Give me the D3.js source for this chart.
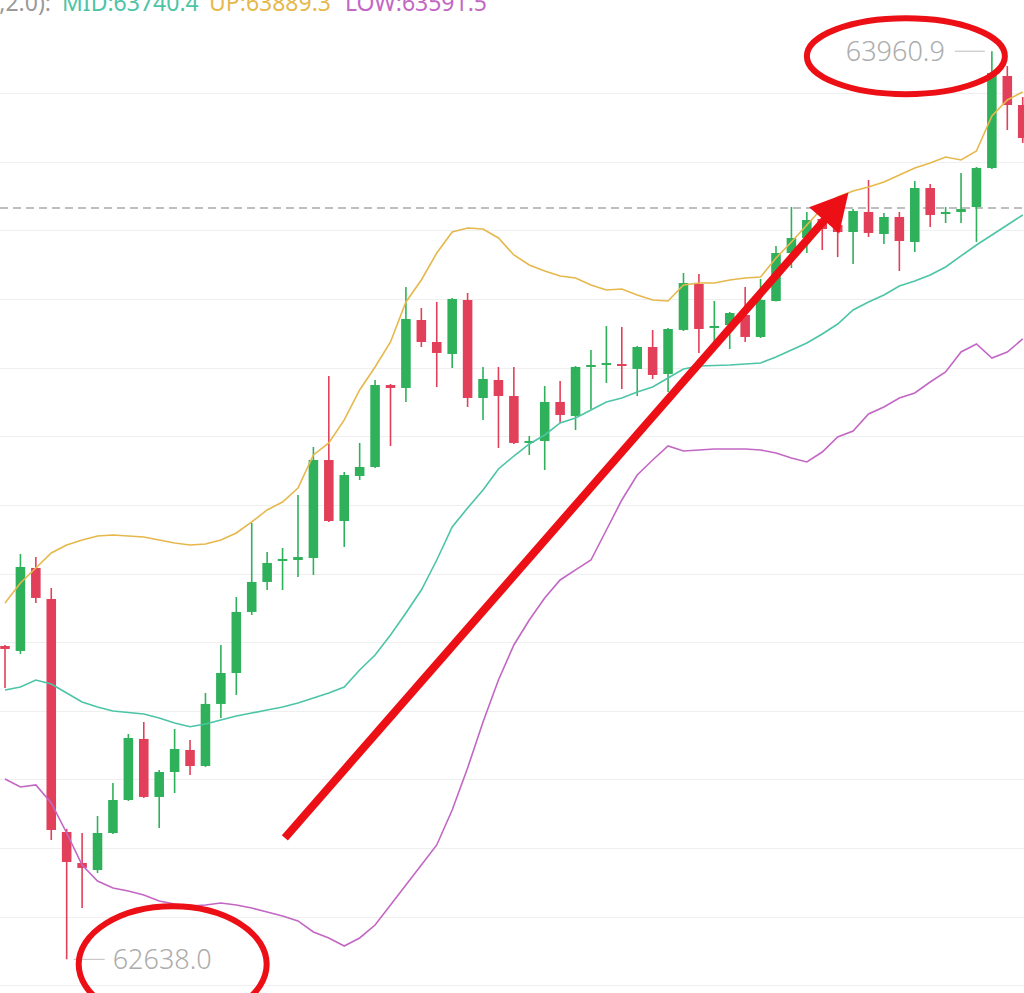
<!DOCTYPE html>
<html>
<head>
<meta charset="utf-8">
<script src="https://cdn.jsdelivr.net/npm/d3@7"></script>
<style>
    html, body { margin: 0; padding: 0; background: #fff; }
    svg { display: block; }
</style>
</head>
<body>
<div id="chart-area"></div>
<script>
// Candle values (one per bar, left to right)
const open = [63094.4, 63087.2, 63208.1, 63162.9, 62823.5, 62778.3, 62768.1, 62822.0, 62870.1, 62959.0,
    62874.5, 62910.9, 62942.9, 62919.6, 63010.0, 63055.1, 63144.0, 63187.7, 63218.3, 63219.7,
    63222.6, 63365.4, 63276.5, 63342.1, 63355.2, 63474.6, 63470.3, 63569.3, 63537.3, 63519.8,
    63598.5, 63455.7, 63481.9, 63458.6, 63390.2, 63393.1, 63449.9, 63429.5, 63500.9, 63503.8,
    63505.2, 63498.0, 63530.0, 63490.7, 63554.8, 63621.8, 63557.7, 63562.0, 63576.6, 63544.6,
    63597.0, 63666.9, 63688.8, 63716.5, 63707.7, 63697.5, 63726.7, 63694.6, 63719.4, 63683.0,
    63761.6, 63723.7, 63726.7, 63733.9, 63790.7, 63924.8, 63882.5];
const high = [63095.9, 63228.5, 63224.1, 63178.9, 62828.0, 62822.0, 62846.8, 62894.9, 62966.3, 62983.7,
    62913.8, 62973.5, 62957.5, 63026.0, 63095.9, 63165.8, 63273.6, 63231.4, 63237.2, 63314.4,
    63384.3, 63487.8, 63347.9, 63390.2, 63481.9, 63476.1, 63617.4, 63586.8, 63595.6, 63601.4,
    63608.7, 63500.9, 63500.9, 63500.9, 63400.4, 63473.2, 63480.5, 63502.3, 63525.6, 63560.6,
    63559.1, 63531.5, 63554.8, 63557.7, 63637.8, 63636.3, 63597.0, 63581.0, 63617.4, 63629.1,
    63677.1, 63733.9, 63726.7, 63722.3, 63723.7, 63731.0, 63773.3, 63725.2, 63726.7, 63771.8,
    63767.4, 63733.9, 63783.5, 63792.2, 63960.9, 63939.3, 63894.2];
const low = [63033.3, 63082.8, 63157.1, 62811.8, 62638.0, 62712.8, 62763.8, 62820.6, 62868.7, 62873.0,
    62829.3, 62880.3, 62906.5, 62918.2, 62989.6, 63023.1, 63139.6, 63176.0, 63176.0, 63195.0,
    63197.9, 63275.1, 63238.7, 63336.3, 63353.7, 63385.8, 63449.9, 63530.0, 63471.7, 63499.4,
    63442.6, 63423.7, 63382.9, 63388.7, 63372.7, 63350.8, 63419.3, 63409.1, 63439.7, 63477.6,
    63468.8, 63458.6, 63483.4, 63464.4, 63553.3, 63521.3, 63537.3, 63527.1, 63537.3, 63543.1,
    63596.3, 63645.1, 63666.9, 63671.3, 63661.1, 63650.9, 63690.2, 63680.0, 63640.7, 63668.4,
    63704.8, 63710.6, 63710.6, 63683.0, 63789.3, 63846.1, 63827.2];
const close = [63090.1, 63209.5, 63164.4, 62826.4, 62779.8, 62771.1, 62822.0, 62870.1, 62960.4, 62874.5,
    62910.9, 62944.4, 62919.6, 63010.0, 63055.1, 63144.0, 63187.7, 63215.4, 63221.2, 63224.1,
    63365.4, 63276.5, 63343.5, 63355.2, 63474.6, 63470.3, 63570.8, 63537.3, 63521.3, 63599.9,
    63455.7, 63483.4, 63458.6, 63390.2, 63393.1, 63449.9, 63430.9, 63500.9, 63503.8, 63506.7,
    63502.3, 63530.0, 63489.2, 63556.2, 63623.2, 63556.2, 63560.6, 63579.5, 63544.6, 63598.5,
    63666.9, 63688.8, 63715.0, 63701.9, 63697.5, 63728.1, 63696.1, 63719.4, 63684.4, 63761.6,
    63722.3, 63726.7, 63731.0, 63790.7, 63929.1, 63882.5, 63834.4];

// Bollinger bands (20, 2.0)
const bollUp = [63157.1, 63186.2, 63208.1, 63229.9, 63241.6, 63248.9, 63254.7, 63256.1, 63254.7, 63253.2,
    63248.9, 63244.5, 63241.6, 63243.0, 63248.9, 63259.1, 63275.1, 63292.6, 63304.2, 63324.6,
    63372.7, 63390.2, 63423.7, 63467.4, 63500.9, 63537.3, 63595.6, 63627.6, 63666.9, 63697.5,
    63703.3, 63701.9, 63688.8, 63664.0, 63649.4, 63640.7, 63633.4, 63630.5, 63620.3, 63613.0,
    63614.5, 63605.7, 63598.5, 63597.0, 63620.3, 63623.2, 63623.2, 63627.6, 63630.5, 63632.0,
    63659.6, 63683.0, 63707.7, 63732.5, 63748.5, 63757.2, 63763.1, 63770.4, 63780.6, 63790.7,
    63798.0, 63806.8, 63802.4, 63815.5, 63866.5, 63889.8, 63901.5];
const bollMid = [63030.3, 63034.7, 63044.9, 63039.1, 63026.0, 63012.9, 63005.6, 62999.8, 62997.6, 62995.4,
    62989.6, 62982.3, 62976.9, 62980.8, 62986.6, 62992.5, 62996.8, 63001.2, 63005.6, 63011.4,
    63018.7, 63026.0, 63034.7, 63059.5, 63081.3, 63110.5, 63142.5, 63176.0, 63219.7, 63267.8,
    63295.5, 63321.7, 63352.3, 63371.2, 63388.7, 63401.8, 63419.3, 63426.6, 63438.2, 63449.9,
    63455.7, 63464.4, 63471.7, 63484.8, 63498.0, 63502.3, 63503.0, 63503.8, 63505.2, 63506.7,
    63515.4, 63525.6, 63535.8, 63548.9, 63563.5, 63583.9, 63595.6, 63605.7, 63618.9, 63626.1,
    63634.9, 63646.5, 63662.6, 63678.6, 63693.1, 63707.7, 63722.3];
const bollLow = [62900.7, 62889.1, 62892.0, 62865.7, 62822.0, 62775.4, 62752.1, 62741.9, 62737.6, 62731.7,
    62723.0, 62718.6, 62715.7, 62717.2, 62720.1, 62717.2, 62712.8, 62707.0, 62701.1, 62693.9,
    62677.8, 62669.1, 62657.4, 62669.1, 62688.0, 62717.2, 62746.3, 62775.4, 62804.6, 62855.5,
    62916.7, 62983.7, 63044.9, 63095.9, 63132.3, 63164.4, 63190.6, 63205.2, 63219.7, 63263.4,
    63307.1, 63343.5, 63365.4, 63385.8, 63378.5, 63380.0, 63381.4, 63381.4, 63381.4, 63380.0,
    63375.6, 63368.3, 63362.5, 63377.0, 63398.9, 63407.6, 63432.4, 63442.6, 63455.7, 63463.0,
    63479.0, 63493.6, 63522.7, 63534.4, 63514.0, 63522.7, 63541.7];

// Header readout and price marks
const bollPrefix = 'BOLL(20,2.0):';
const bollLegend = [
    {label: 'MID', value: '63740.4', color: '#4cc4a6'},
    {label: 'UP', value: '63889.3', color: '#e6b84c'},
    {label: 'LOW', value: '63591.5', color: '#c267c4'}
];
const lastPrice = 63732.5;
const maxLabel = '63960.9';
const minLabel = '62638.0';
// arrow drawn over the chart: [bar index, price]
const arrowFrom = [18.15, 62815];
const arrowTo = [54.7, 63755];

const UP_COLOR = '#2fb15b';
const DOWN_COLOR = '#e2405a';

const WIDTH = 1024;
const HEIGHT = 993;

const svg = d3.select('#chart-area').append('svg')
    .attr('width', WIDTH)
    .attr('height', HEIGHT)
    .style('background', '#fff');

const n = open.length;
const candles = open.map((o, i) => ({i: i, o: o, h: high[i], l: low[i], c: close[i]}));

// one band per bar, 15.4px apart, first bar centred at x=5
const STEP = 15.42;
const xScale = d3.scaleBand()
    .domain(d3.range(n))
    .range([5 - STEP / 2, 5 - STEP / 2 + STEP * n])
    .paddingInner(0.38)
    .paddingOuter(0.19);
const xMid = i => xScale(i) + xScale.bandwidth() / 2;
const xIdx = d3.scaleLinear().domain([0, n - 1]).range([xMid(0), xMid(n - 1)]);

const yScale = d3.scaleLinear()
    .domain([62600, 63900])
    .range([985.4, 93]);

// Horizontal gridlines every 100
svg.append('g')
    .attr('class', 'grid')
    .selectAll('line')
    .data(yScale.ticks(13))
    .enter()
    .append('line')
    .attr('x1', 0)
    .attr('x2', WIDTH)
    .attr('y1', d => Math.round(yScale(d)) + 0.5)
    .attr('y2', d => Math.round(yScale(d)) + 0.5)
    .attr('stroke', '#efefef')
    .attr('stroke-width', 1);

// Current price line
svg.append('line')
    .attr('x1', 0)
    .attr('x2', WIDTH)
    .attr('y1', yScale(lastPrice))
    .attr('y2', yScale(lastPrice))
    .attr('stroke', '#a9a9a9')
    .attr('stroke-width', 1.5)
    .attr('stroke-dasharray', '8,5');

// Candles
const cg = svg.append('g').attr('class', 'candles');
const colorOf = d => d.c >= d.o ? UP_COLOR : DOWN_COLOR;

cg.selectAll('line.wick')
    .data(candles)
    .enter()
    .append('line')
    .attr('class', 'wick')
    .attr('x1', d => xMid(d.i))
    .attr('x2', d => xMid(d.i))
    .attr('y1', d => yScale(d.h))
    .attr('y2', d => yScale(d.l))
    .attr('stroke', colorOf)
    .attr('stroke-width', 1.6);

cg.selectAll('rect.body')
    .data(candles)
    .enter()
    .append('rect')
    .attr('class', 'body')
    .attr('x', d => xScale(d.i))
    .attr('width', xScale.bandwidth())
    .attr('y', d => Math.min(yScale(d.o), yScale(d.c)))
    .attr('height', d => Math.max(2, Math.abs(yScale(d.o) - yScale(d.c))))
    .attr('fill', colorOf);

// Bollinger lines
const bandLine = d3.line()
    .x((d, i) => xMid(i))
    .y(d => yScale(d));

[[bollUp, '#e6b84c'], [bollMid, '#4cc4a6'], [bollLow, '#c267c4']].forEach(([vals, col]) => {
    svg.append('path')
        .datum(vals)
        .attr('d', bandLine)
        .attr('fill', 'none')
        .attr('stroke', col)
        .attr('stroke-width', 1.6);
});

// Header readout, cut off on the left like the screenshot
const header = svg.append('g')
    .attr('font-family', '"Noto Sans", sans-serif')
    .attr('font-size', '23px');
header.append('text')
    .attr('x', 51)
    .attr('y', 11)
    .attr('text-anchor', 'end')
    .attr('fill', '#9a9a9a')
    .text(bollPrefix);
const headerX = [62, 209, 345];
bollLegend.forEach((d, i) => {
    header.append('text')
        .attr('x', headerX[i])
        .attr('y', 11)
        .attr('fill', d.color)
        .text(`${d.label}:${d.value}`);
});

// Max / min price marks
const iMax = d3.maxIndex(high);
const iMin = d3.minIndex(low);
const markFont = '"Noto Sans", sans-serif';

svg.append('line')
    .attr('x1', xMid(iMax) - 37)
    .attr('x2', xMid(iMax) - 7)
    .attr('y1', yScale(high[iMax]))
    .attr('y2', yScale(high[iMax]))
    .attr('stroke', '#bdbdbd')
    .attr('stroke-width', 1);
svg.append('text')
    .attr('x', xMid(iMax) - 47)
    .attr('y', yScale(high[iMax]))
    .attr('dy', '0.36em')
    .attr('text-anchor', 'end')
    .attr('font-family', markFont)
    .attr('font-weight', 300)
    .attr('font-size', '27px')
    .attr('fill', '#acacac')
    .text(maxLabel);

svg.append('line')
    .attr('x1', xMid(iMin) + 7)
    .attr('x2', xMid(iMin) + 38)
    .attr('y1', yScale(low[iMin]))
    .attr('y2', yScale(low[iMin]))
    .attr('stroke', '#bdbdbd')
    .attr('stroke-width', 1);
svg.append('text')
    .attr('x', xMid(iMin) + 46)
    .attr('y', yScale(low[iMin]))
    .attr('dy', '0.36em')
    .attr('text-anchor', 'start')
    .attr('font-family', markFont)
    .attr('font-weight', 300)
    .attr('font-size', '27px')
    .attr('fill', '#acacac')
    .text(minLabel);

// Red hand-drawn annotations
const RED = '#ec1016';
svg.append('ellipse')
    .attr('cx', xMid(iMax) - 86)
    .attr('cy', yScale(high[iMax]) + 5)
    .attr('rx', 99)
    .attr('ry', 38)
    .attr('fill', 'none')
    .attr('stroke', RED)
    .attr('stroke-width', 6);
svg.append('ellipse')
    .attr('cx', xMid(iMin) + 106)
    .attr('cy', yScale(low[iMin]) + 5)
    .attr('rx', 94)
    .attr('ry', 58)
    .attr('fill', 'none')
    .attr('stroke', RED)
    .attr('stroke-width', 6);

// Arrow, head built in pixel space
const ax0 = xIdx(arrowFrom[0]), ay0 = yScale(arrowFrom[1]);
const ax1 = xIdx(arrowTo[0]), ay1 = yScale(arrowTo[1]);
const len = Math.hypot(ax1 - ax0, ay1 - ay0);
const ux = (ax1 - ax0) / len, uy = (ay1 - ay0) / len;
const HEAD_LEN = 37, HEAD_HALF = 20;
const bx = ax1 - ux * HEAD_LEN, by = ay1 - uy * HEAD_LEN;

svg.append('line')
    .attr('x1', ax0)
    .attr('y1', ay0)
    .attr('x2', bx + ux * 4)
    .attr('y2', by + uy * 4)
    .attr('stroke', RED)
    .attr('stroke-width', 8);
svg.append('polygon')
    .attr('points', [
        [ax1, ay1],
        [bx - uy * HEAD_HALF, by + ux * HEAD_HALF],
        [bx + uy * HEAD_HALF, by - ux * HEAD_HALF]
    ].map(p => p.join(',')).join(' '))
    .attr('fill', RED);
</script>
</body>
</html>
